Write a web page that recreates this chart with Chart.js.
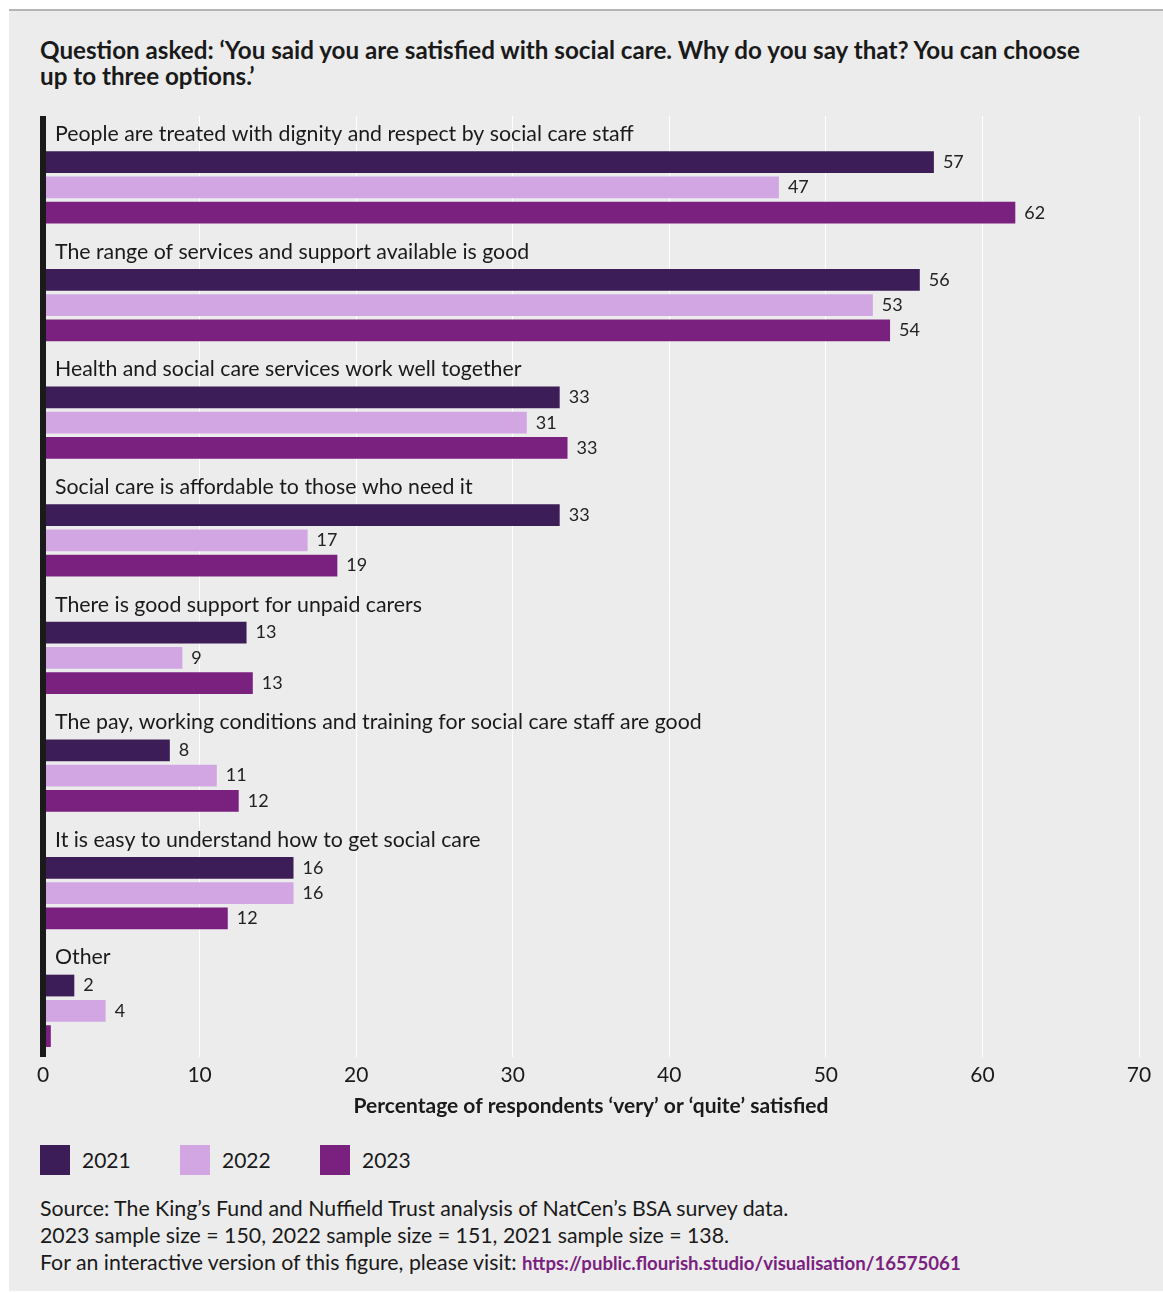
<!DOCTYPE html>
<html>
<head>
<meta charset="utf-8">
<script src="https://cdn.jsdelivr.net/npm/chart.js@4.4.1/dist/chart.umd.min.js"></script>
<style>
  body { margin:0; background:#fff; font-family:Lato, "Open Sans", sans-serif; color:#1a1a1a; }
  #panel { position:absolute; left:9px; top:9px; width:1154px; height:1280px; background:#ececec; border-top:2px solid #b5b5b5; }
  #title { position:absolute; left:40px; top:37px; width:1060px; font-weight:bold; font-size:24.2px; line-height:26px; }
  #wrap { position:absolute; left:0; top:100px; }
  #legend { position:absolute; left:40px; top:1145px; font-size:21px; }
  .item { position:absolute; top:0; height:30px; line-height:30px; white-space:nowrap; }
  .sw { display:inline-block; width:30px; height:30px; vertical-align:top; margin-right:12px; }
  #source { position:absolute; left:40px; top:1195px; font-size:21.3px; line-height:27px; }
  #source a { color:#7a2180; font-weight:bold; font-size:18.6px; text-decoration:none; }
</style>
</head>
<body>
<div id="panel"></div>
<div id="title">Question asked: ‘You said you are satisfied with social care. Why do you say that? You can choose up to three options.’</div>
<div id="wrap"><canvas id="myChart" width="1163" height="1028"></canvas></div>
<div id="legend"></div>
<div id="source">
  Source: The King’s Fund and Nuffield Trust analysis of NatCen’s BSA survey data.<br>
  2023 sample size = 150, 2022 sample size = 151, 2021 sample size = 138.<br>
  For an interactive version of this figure, please visit: <a>https://public.flourish.studio/visualisation/16575061</a>
</div>
<script>
'use strict';
const categories = [
  'People are treated with dignity and respect by social care staff',
  'The range of services and support available is good',
  'Health and social care services work well together',
  'Social care is affordable to those who need it',
  'There is good support for unpaid carers',
  'The pay, working conditions and training for social care staff are good',
  'It is easy to understand how to get social care',
  'Other'
];
const years = ['2021','2022','2023'];
const colors = ['#3d1d57','#d1a6e3','#7a2180'];
// bar lengths
const values2021 = [56.9, 56.0, 33.0, 33.0, 13.0, 8.1, 16.0, 2.0];
const values2022 = [47.0, 53.0, 30.9, 16.9, 8.9, 11.1, 16.0, 4.0];
const values2023 = [62.1, 54.1, 33.5, 18.8, 13.4, 12.5, 11.8, 0.5];
// numbers printed next to the bars (null = no label)
const labels2021 = [57, 56, 33, 33, 13, 8, 16, 2];
const labels2022 = [47, 53, 31, 17, 9, 11, 16, 4];
const labels2023 = [62, 54, 33, 19, 13, 12, 12, null];
const xTicks = [0, 10, 20, 30, 40, 50, 60, 70];

const seriesValues = [values2021, values2022, values2023];
const seriesLabels = [labels2021, labels2022, labels2023];

// legend
const legendEl = document.getElementById('legend');
for (let i=0; i<years.length; i++) {
  let div = document.createElement('div');
  div.className = 'item';
  div.style.left = (i*140) + 'px';
  div.innerHTML = `<span class="sw" style="background:${colors[i]}"></span>${years[i]}`;
  legendEl.appendChild(div);
}

// first dataset is an empty slot that leaves room for the category label
const datasets = [{
  label: '',
  data: categories.map(() => null),
  backgroundColor: 'rgba(0,0,0,0)'
}];
for (let i=0; i<years.length; i++) {
  datasets.push({
    label: years[i],
    data: seriesValues[i],
    backgroundColor: colors[i],
    borderWidth: 0
  });
}

const labelPlugin = {
  id: 'labelPlugin',
  afterDatasetsDraw(chart) {
    const ctx = chart.ctx;
    const area = chart.chartArea;
    ctx.save();
    // value labels
    ctx.font = '18px Lato';
    ctx.fillStyle = '#222';
    ctx.textBaseline = 'middle';
    ctx.textAlign = 'left';
    for (let d=1; d<chart.data.datasets.length; d++) {
      const meta = chart.getDatasetMeta(d);
      meta.data.forEach((bar, i) => {
        const txt = seriesLabels[d-1][i];
        if (txt !== null) ctx.fillText(String(txt), bar.x + 9, bar.y);
      });
    }
    // category labels above each group
    ctx.font = '21.3px Lato';
    ctx.fillStyle = '#1a1a1a';
    const first = chart.getDatasetMeta(1);
    first.data.forEach((bar, i) => {
      ctx.fillText(categories[i], area.left + 12, bar.y - 28);
    });
    // thick axis line at zero
    ctx.fillStyle = '#1a1a1a';
    ctx.fillRect(area.left - 3, area.top, 6, area.bottom - area.top);
    ctx.restore();
  }
};

const ctx = document.getElementById('myChart').getContext('2d');
const chart = new Chart(ctx, {
  type: 'bar',
  data: {
    labels: categories,
    datasets: datasets
  },
  options: {
    indexAxis: 'y',
    responsive: false,
    animation: false,
    devicePixelRatio: 1,
    categoryPercentage: 0.86,
    barPercentage: 0.86,
    layout: { padding: { left: 43, right: 24, top: 16, bottom: 0 } },
    plugins: { legend: { display: false }, tooltip: { enabled: false } },
    scales: {
      y: { display: false },
      x: {
        min: 0,
        max: 70,
        afterFit: s => { s.height = 71; },
        afterBuildTicks: s => { s.ticks = xTicks.map(v => ({ value: v })); },
        grid: { color: '#ffffff', lineWidth: 1, drawTicks: false },
        border: { display: false },
        ticks: { padding: 6, color: '#1a1a1a', font: { family: 'Lato', size: 21 } },
        title: {
          display: true,
          text: 'Percentage of respondents ‘very’ or ‘quite’ satisfied',
          color: '#1a1a1a',
          font: { family: 'Lato', size: 21, weight: 'bold' },
          padding: { top: 4, bottom: 9 }
        }
      }
    }
  },
  plugins: [labelPlugin]
});
</script>
</body>
</html>
